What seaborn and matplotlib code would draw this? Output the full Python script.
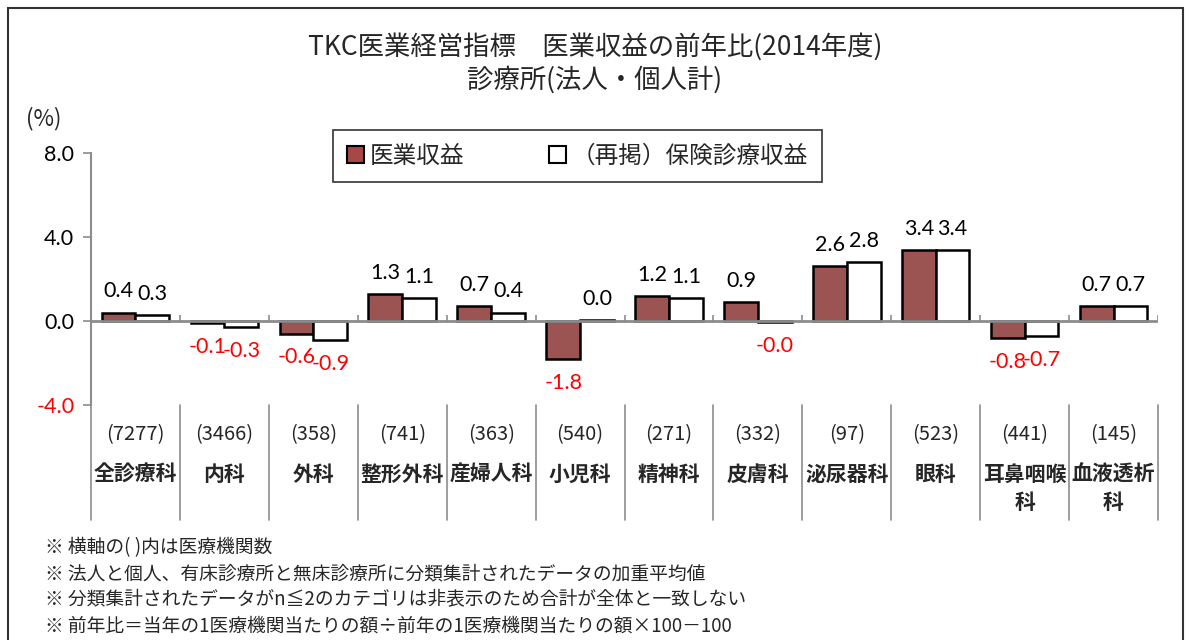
import numpy as np
import pandas as pd
import matplotlib
matplotlib.use("Agg")
import matplotlib.pyplot as plt
import matplotlib.patches as mpatches
import matplotlib.transforms as mtransforms
import seaborn as sns

# ---- data ----
categories = ["全診療科", "内科", "外科", "整形外科", "産婦人科", "小児科",
              "精神科", "皮膚科", "泌尿器科", "眼科", "耳鼻咽喉\n科", "血液透析\n科"]
counts = [7277, 3466, 358, 741, 363, 540, 271, 332, 97, 523, 441, 145]
medical_revenue = [0.4, -0.1, -0.6, 1.3, 0.7, -1.8, 1.2, 0.9, 2.6, 3.4, -0.8, 0.7]
insurance_revenue = [0.3, -0.3, -0.9, 1.1, 0.4, 0.03, 1.1, -0.03, 2.8, 3.4, -0.7, 0.7]
series_names = ["医業収益", "（再掲）保険診療収益"]
y_ticks = [-4.0, 0.0, 4.0, 8.0]

df = pd.DataFrame({
    "cat": categories * 2,
    "series": [series_names[0]] * len(categories) + [series_names[1]] * len(categories),
    "value": medical_revenue + insurance_revenue,
})

RED = "#A84846"
GRAY = "#8c8c8c"
NUM_FONT = ["Lato", "DejaVu Sans"]

sns.set_theme(style="white")
plt.rcParams["font.family"] = ["Noto Sans CJK JP", "DejaVu Sans"]

fig = plt.figure(figsize=(11.9, 6.4), dpi=100)
ax = fig.add_axes([0.0765, 0.3672, 0.8966, 0.3937])

sns.barplot(data=df, x="cat", y="value", hue="series", order=categories,
            hue_order=series_names, palette={series_names[0]: RED, series_names[1]: "white"},
            edgecolor="black", linewidth=1.8, width=0.76, ax=ax, legend=False, zorder=3)

ax.set_xlim(-0.5, len(categories) - 0.5)
ax.set_ylim(-4, 8)
ax.set_yticks(y_ticks)
ax.set_yticklabels([f"{t:.1f}" for t in y_ticks], family=NUM_FONT, fontsize=15.5)
for lab, t in zip(ax.get_yticklabels(), y_ticks):
    lab.set_color("red" if t < 0 else "black")
ax.tick_params(axis="y", direction="out", length=6, width=1.2, color=GRAY, left=True, pad=6)
ax.set_xticks([])
ax.set_xlabel("")
ax.set_ylabel("")
for s in ["top", "right", "bottom"]:
    ax.spines[s].set_visible(False)
ax.spines["left"].set_color(GRAY)
ax.spines["left"].set_linewidth(1.5)

# zero line with small boundary ticks
ax.axhline(0, color=GRAY, lw=2, zorder=4)
bounds = np.arange(len(categories) + 1) - 0.5
ax.vlines(bounds[1:], 0, 0.3, color=GRAY, lw=1.2, zorder=4)

# category separators below the plot area
trans = mtransforms.blended_transform_factory(ax.transData, ax.transAxes)
for b in bounds:
    ax.plot([b, b], [0, -0.456], transform=trans, color=GRAY, lw=1.2, clip_on=False)

# category labels
for i, (c, n) in enumerate(zip(categories, counts)):
    ax.text(i, -0.119, f"({n})", transform=trans, ha="center", va="center", fontsize=14.5)
    ax.text(i, -0.274 if "\n" not in c else -0.33, c, transform=trans, ha="center",
            va="center", fontsize=15, fontweight="bold", linespacing=1.4)

# data labels
for cont in ax.containers:
    for p in cont.patches:
        h = p.get_height()
        xc = p.get_x() + p.get_width() / 2
        if h >= 0:
            ax.annotate(f"{h:.1f}", (xc, h), xytext=(0, 8), textcoords="offset points",
                        ha="center", va="bottom", fontsize=15.5, family=NUM_FONT,
                        color="black")
        else:
            ax.annotate(f"{h:.1f}", (xc, h), xytext=(0, -10), textcoords="offset points",
                        ha="center", va="top", fontsize=15.5, family=NUM_FONT,
                        color="red")

# legend
handles = [mpatches.Patch(facecolor=RED, edgecolor="black", lw=1.5),
           mpatches.Patch(facecolor="white", edgecolor="black", lw=1.5)]
leg = fig.legend(handles, series_names, loc="center", bbox_to_anchor=(0.4853, 0.756),
                 ncol=2, frameon=True, fancybox=False, fontsize=17, handlelength=0.7,
                 handleheight=0.7, handletextpad=0.25, columnspacing=3.6,
                 borderpad=0.6, borderaxespad=0)
leg.get_frame().set_edgecolor("black")
leg.get_frame().set_linewidth(1.2)
leg._legend_box.sep = 0
for child in leg.get_children():
    pass

# titles
fig.text(0.5, 1 - 47 / 640, "TKC医業経営指標　医業収益の前年比(2014年度)",
         ha="center", va="center", fontsize=19)
fig.text(0.5, 1 - 80 / 640, "診療所(法人・個人計)", ha="center", va="center", fontsize=19)
fig.text(26 / 1190, 1 - 119 / 640, "(%)", ha="left", va="center", fontsize=16)

notes = [
    "※ 横軸の( )内は医療機関数",
    "※ 法人と個人、有床診療所と無床診療所に分類集計されたデータの加重平均値",
    "※ 分類集計されたデータがn≦2のカテゴリは非表示のため合計が全体と一致しない",
    "※ 前年比＝当年の1医療機関当たりの額÷前年の1医療機関当たりの額×100－100",
]
for k, note in enumerate(notes):
    fig.text(45 / 1190, 1 - (548 + 26 * k) / 640, note, ha="left", va="center", fontsize=13.5)

# outer border
fig.patches.append(mpatches.Rectangle((8 / 1190, -0.02), 1175 / 1190, 1 - 8 / 640 + 0.02,
                                      transform=fig.transFigure, fill=False,
                                      edgecolor="#333333", lw=1.5))

fig.savefig("out.png", dpi=100)
